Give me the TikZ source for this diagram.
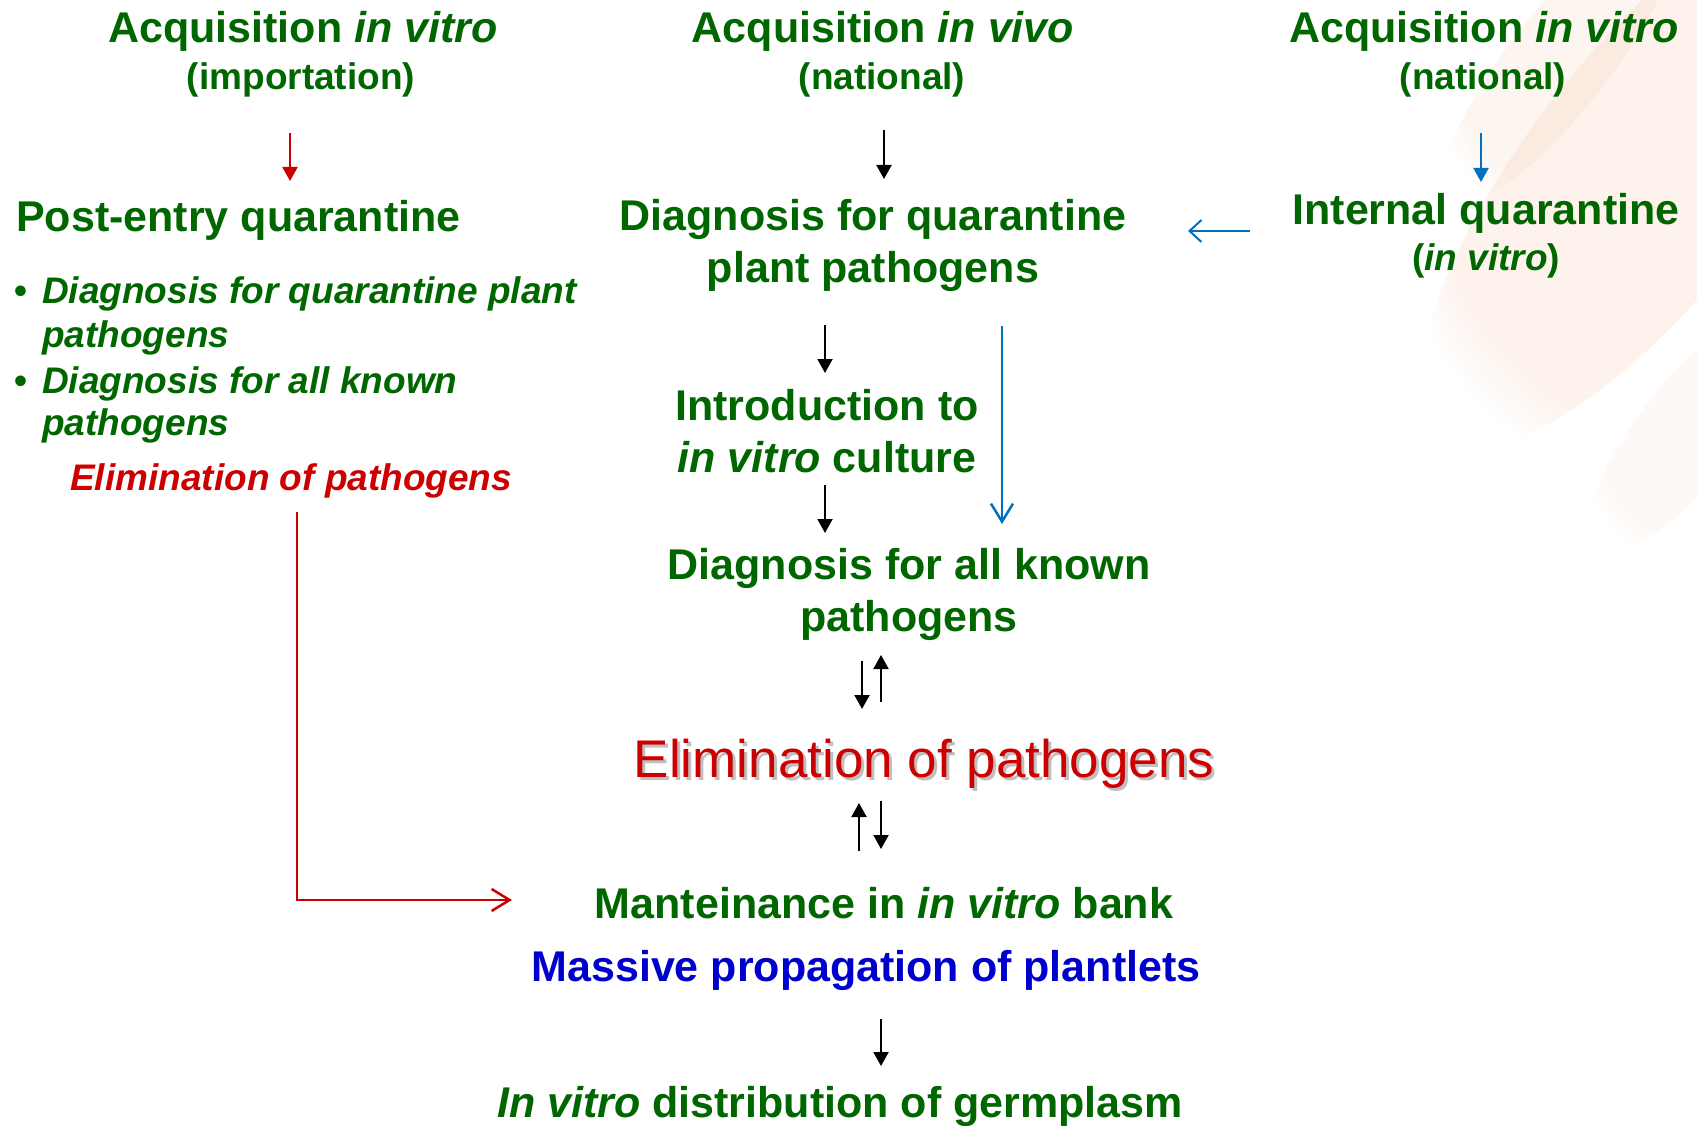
\documentclass[tikz,border=0pt]{standalone}
\usepackage{fontspec}
\setmainfont{Liberation Sans}
\usetikzlibrary{arrows.meta,fadings}
\definecolor{tgreen}{RGB}{0,102,0}
\definecolor{tred}{RGB}{204,0,0}
\definecolor{tblue}{RGB}{0,0,204}
\definecolor{ablue}{RGB}{0,112,192}
\definecolor{peach}{RGB}{240,175,135}
\tikzset{
  big/.style={font=\fontsize{43}{50}\selectfont\bfseries, text=tgreen, inner sep=0pt, anchor=base},
  sub/.style={font=\fontsize{37}{44}\selectfont\bfseries, text=tgreen, inner sep=0pt, anchor=base},
  bul/.style={font=\fontsize{37}{44}\selectfont\bfseries\itshape, text=tgreen, inner sep=0pt, anchor=base west},
  huge red/.style={font=\fontsize{53}{60}\selectfont, text=tred, inner sep=0pt, anchor=base},
  farr/.style={line width=2pt, -{Triangle[length=14pt,width=15pt]}},
  oarr/.style={line width=2.5pt, -{Straight Barb[length=18pt,width=22pt]}},
  deco/.style={peach, path fading=circle with fuzzy edge 20 percent},
}
\begin{document}
\begin{tikzpicture}[x=1pt,y=-1pt]
\useasboundingbox (0,0) rectangle (1697,1126);
% faint background decoration (top right)
\fill[deco, opacity=0.16, rotate around={-38:(1650,170)}] (1650,170) ellipse (120 and 340);
\fill[deco, opacity=0.12, rotate around={-38:(1560,60)}] (1560,60) ellipse (50 and 180);
\fill[deco, opacity=0.08, rotate around={-38:(1690,430)}] (1690,430) ellipse (50 and 150);

% top row
\node[big] (t1) at (303,43) {Acquisition \textit{in vitro}};
\node[sub] (t1b) at (301,90) {(importation)};
\node[big] (t2) at (883,43) {Acquisition \textit{in vivo}};
\node[sub] (t2b) at (882,90) {(national)};
\node[big] (t3) at (1484,43) {Acquisition \textit{in vitro}};
\node[sub] (t3b) at (1483,90) {(national)};

\coordinate (r1s) at (290,133); \coordinate (r1e) at (290,181);
\coordinate (k1s) at (884,130); \coordinate (k1e) at (884,179);
\coordinate (b1s) at (1481,133); \coordinate (b1e) at (1481,182);
\draw[farr, tred] (r1s) -- (r1e);
\draw[farr, black] (k1s) -- (k1e);
\draw[farr, ablue] (b1s) -- (b1e);

% left column
\node[big, anchor=base west] (pq) at (16,232) {Post-entry quarantine};
\node[bul] (bu1) at (14,303) {\textup{•}};
\node[bul] (l1a) at (42,303) {Diagnosis for quarantine plant};
\node[bul] (l1b) at (42,347) {pathogens};
\node[bul] (bu2) at (14,393) {\textup{•}};
\node[bul] (l2a) at (42,393) {Diagnosis for all known};
\node[bul] (l2b) at (42,435) {pathogens};
\node[bul, text=tred] (lel) at (70,490) {Elimination of pathogens};

\coordinate (rs) at (297,512);
\coordinate (rc) at (297,900);
\coordinate (re) at (512,900);
\draw[tred, line width=2.5pt, -{Straight Barb[length=18pt,width=22pt]}] (rs) -- (rc) -- (re);

% middle column
\node[big] (dq1) at (873,230) {Diagnosis for quarantine};
\node[big] (dq2) at (873,282) {plant pathogens};

\node[big] (iq1) at (1486,225) {Internal quarantine};
\node[sub] (iq2) at (1486,270) {(\textit{in vitro})};
\coordinate (hs) at (1250,231); \coordinate (he) at (1188,231);
\draw[ablue, line width=2pt, -{Straight Barb[length=12pt,width=22pt]}] (hs) -- (he);

\coordinate (k2s) at (825,325); \coordinate (k2e) at (825,373);
\draw[farr] (k2s) -- (k2e);
\node[big] (in1) at (827,420) {Introduction to};
\node[big] (in2) at (827,472) {\textit{in vitro} culture};
\coordinate (k3s) at (825,485); \coordinate (k3e) at (825,533);
\draw[farr] (k3s) -- (k3e);

\coordinate (bls) at (1002,326); \coordinate (ble) at (1002,524);
\draw[oarr, ablue] (bls) -- (ble);

\node[big] (da1) at (909,579) {Diagnosis for all known};
\node[big] (da2) at (909,631) {pathogens};

\coordinate (d1s) at (862,661); \coordinate (d1e) at (862,709);
\coordinate (u1s) at (881,702); \coordinate (u1e) at (881,655);
\draw[farr] (d1s) -- (d1e);
\draw[farr] (u1s) -- (u1e);

\node[huge red, text=black!25] (elsh) at (927,780) {Elimination of pathogens};
\node[huge red] (elim) at (924,777) {Elimination of pathogens};

\coordinate (u2s) at (859,851); \coordinate (u2e) at (859,803);
\coordinate (d2s) at (881,801); \coordinate (d2e) at (881,849);
\draw[farr] (u2s) -- (u2e);
\draw[farr] (d2s) -- (d2e);

\node[big] (man) at (884,918) {Manteinance in \textit{in vitro} bank};
\node[big, text=tblue] (mas) at (866,981) {Massive propagation of plantlets};

\coordinate (k4s) at (881,1019); \coordinate (k4e) at (881,1066);
\draw[farr] (k4s) -- (k4e);

\node[big] (dist) at (840,1117) {\textit{In vitro} distribution of germplasm};
\end{tikzpicture}
\end{document}
